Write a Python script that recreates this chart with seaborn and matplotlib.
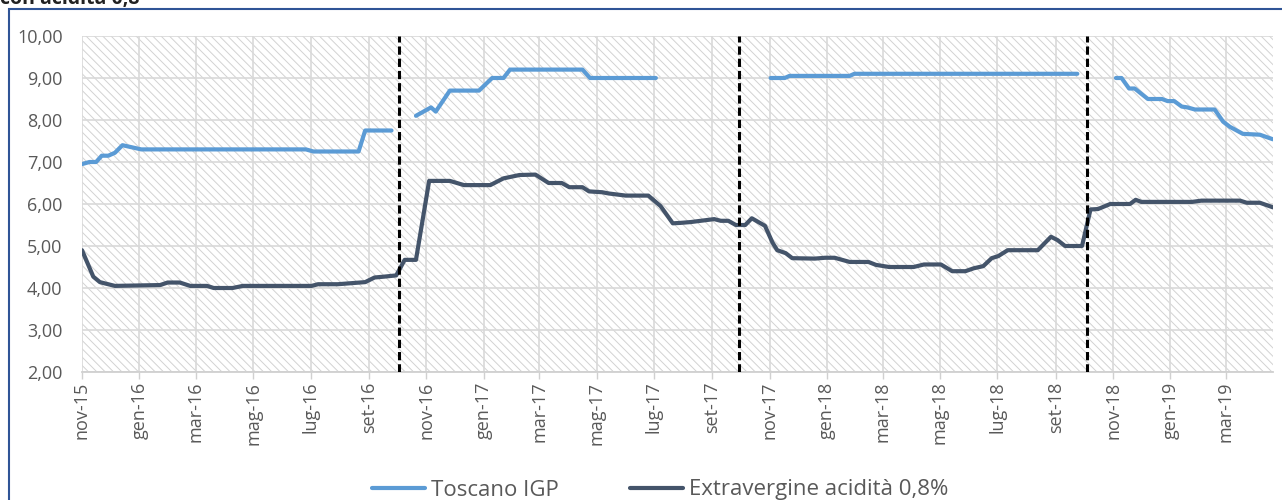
import pandas as pd
import numpy as np
import matplotlib.pyplot as plt
import matplotlib.dates as mdates
from matplotlib.patches import Rectangle
from matplotlib.lines import Line2D
from matplotlib.ticker import FuncFormatter
import seaborn as sns

# Toscano IGP prices (EUR/kg), one list per campaign - no quotes between campaigns
toscano_1516_dates = ['2015-11-01', '2015-11-09', '2015-11-16', '2015-11-22', '2015-11-29',
                      '2015-12-06', '2015-12-14', '2016-01-03', '2016-06-26', '2016-07-04',
                      '2016-08-21', '2016-08-28', '2016-09-25']
toscano_1516_vals = [6.95, 7.00, 7.00, 7.15, 7.15, 7.22, 7.40, 7.30, 7.30, 7.25, 7.25, 7.75, 7.75]

toscano_1617_dates = ['2016-10-21', '2016-11-06', '2016-11-11', '2016-11-26', '2016-12-27',
                      '2017-01-10', '2017-01-22', '2017-01-29', '2017-04-16', '2017-04-24',
                      '2017-07-03']
toscano_1617_vals = [8.10, 8.30, 8.20, 8.70, 8.70, 9.00, 9.00, 9.20, 9.20, 9.00, 9.00]

toscano_1718_dates = ['2017-11-02', '2017-11-17', '2017-11-22', '2018-01-25', '2018-01-30',
                      '2018-09-24']
toscano_1718_vals = [9.00, 9.00, 9.05, 9.05, 9.10, 9.10]

toscano_1819_dates = ['2018-11-04', '2018-11-10', '2018-11-18', '2018-11-24', '2018-12-08',
                      '2018-12-23', '2018-12-29', '2019-01-05', '2019-01-13', '2019-01-19',
                      '2019-01-27', '2019-02-17', '2019-02-26', '2019-03-05', '2019-03-19',
                      '2019-04-06', '2019-04-20']
toscano_1819_vals = [9.00, 9.00, 8.75, 8.75, 8.50, 8.50, 8.45, 8.45, 8.32, 8.30,
                     8.25, 8.25, 7.96, 7.84, 7.67, 7.65, 7.54]

# Extravergine acidita' 0,8% (continuous series)
evo_dates = ['2015-11-01', '2015-11-13', '2015-11-20', '2015-11-27', '2015-12-06',
             '2016-01-23', '2016-01-31', '2016-02-13', '2016-02-24', '2016-03-13',
             '2016-03-20', '2016-04-09', '2016-04-20', '2016-07-02', '2016-07-09',
             '2016-07-30', '2016-08-28', '2016-09-07', '2016-09-17', '2016-09-30',
             '2016-10-09', '2016-10-21', '2016-11-04', '2016-11-26', '2016-12-11',
             '2017-01-08', '2017-01-22', '2017-02-08', '2017-02-25', '2017-03-11',
             '2017-03-25', '2017-04-02', '2017-04-16', '2017-04-23', '2017-05-07',
             '2017-05-14', '2017-06-01', '2017-06-25', '2017-07-08', '2017-07-21',
             '2017-07-29', '2017-08-09', '2017-09-03', '2017-09-10', '2017-09-18',
             '2017-09-26', '2017-10-06', '2017-10-13', '2017-10-27', '2017-11-04',
             '2017-11-09', '2017-11-18', '2017-11-25', '2017-12-19', '2017-12-30',
             '2018-01-09', '2018-01-25', '2018-02-14', '2018-02-22', '2018-03-08',
             '2018-04-03', '2018-04-14', '2018-05-02', '2018-05-14', '2018-05-28',
             '2018-06-06', '2018-06-16', '2018-06-25', '2018-07-02', '2018-07-12',
             '2018-08-13', '2018-08-27', '2018-09-03', '2018-09-11', '2018-09-29',
             '2018-10-08', '2018-10-16', '2018-10-29', '2018-11-19', '2018-11-25',
             '2018-12-01', '2019-01-24', '2019-02-03', '2019-03-16', '2019-03-23',
             '2019-04-06', '2019-04-20']
evo_vals = [4.90, 4.27, 4.14, 4.10, 4.05, 4.07, 4.13, 4.13, 4.05, 4.05,
            4.00, 4.00, 4.05, 4.05, 4.09, 4.09, 4.14, 4.25, 4.27, 4.30,
            4.67, 4.67, 6.55, 6.55, 6.45, 6.45, 6.61, 6.69, 6.70, 6.50,
            6.50, 6.40, 6.40, 6.30, 6.28, 6.25, 6.20, 6.20, 5.95, 5.54,
            5.55, 5.57, 5.64, 5.60, 5.60, 5.50, 5.50, 5.66, 5.48, 5.08,
            4.90, 4.83, 4.71, 4.70, 4.72, 4.72, 4.62, 4.62, 4.55, 4.50,
            4.50, 4.56, 4.56, 4.40, 4.40, 4.47, 4.52, 4.71, 4.76, 4.90,
            4.90, 5.22, 5.14, 5.00, 5.00, 5.87, 5.88, 6.00, 6.00, 6.10,
            6.05, 6.05, 6.08, 6.08, 6.03, 6.03, 5.92]

# start of each new campaign (dashed separators)
campaign_starts = ['2016-10-03', '2017-09-29', '2018-10-04']

month_names = ['gen', 'feb', 'mar', 'apr', 'mag', 'giu',
               'lug', 'ago', 'set', 'ott', 'nov', 'dic']
series_labels = ['Toscano IGP', 'Extravergine acidità 0,8%']

BLUE = '#5B9BD5'
DARK = '#44546A'
GREY_TXT = '#595959'

# build tidy frames
parts = []
for name, d, v in [('15/16', toscano_1516_dates, toscano_1516_vals),
                   ('16/17', toscano_1617_dates, toscano_1617_vals),
                   ('17/18', toscano_1718_dates, toscano_1718_vals),
                   ('18/19', toscano_1819_dates, toscano_1819_vals)]:
    parts.append(pd.DataFrame({'data': pd.to_datetime(d), 'prezzo': v, 'campagna': name}))
tosc_df = pd.concat(parts, ignore_index=True)
evo_df = pd.DataFrame({'data': pd.to_datetime(evo_dates), 'prezzo': evo_vals})

sns.set_theme(style='white')
plt.rcParams['font.family'] = ['Open Sans', 'DejaVu Sans']
plt.rcParams['hatch.linewidth'] = 0.7

fig = plt.figure(figsize=(12.82, 5.0), dpi=100)
ax = fig.add_axes([82 / 1282, 1 - 372 / 500, (1273 - 82) / 1282, (372 - 36) / 500])

# hatched plot background
ax.add_patch(Rectangle((0, 0), 1, 1, transform=ax.transAxes, facecolor='white',
                       edgecolor='#d2d2d2', hatch='\\\\\\\\', lw=0, zorder=0))

sns.lineplot(data=tosc_df, x='data', y='prezzo', units='campagna', estimator=None,
             color=BLUE, lw=3, ax=ax, legend=False, zorder=3)
sns.lineplot(data=evo_df, x='data', y='prezzo', color=DARK, lw=3, ax=ax,
             legend=False, zorder=3)

for d in campaign_starts:
    ax.axvline(pd.Timestamp(d), color='black', lw=2.2, ls=(0, (2.7, 1.3)), zorder=4)

ax.set_xlim(pd.Timestamp('2015-11-01'), pd.Timestamp('2019-04-20'))
ax.set_ylim(2, 10)
ax.set_yticks(np.arange(2, 11, 1))
ax.yaxis.set_major_formatter(FuncFormatter(lambda v, p: f'{v:.2f}'.replace('.', ',')))
ax.xaxis.set_major_locator(mdates.MonthLocator(bymonth=[1, 3, 5, 7, 9, 11]))
ax.xaxis.set_major_formatter(FuncFormatter(
    lambda v, p: f"{month_names[mdates.num2date(v).month - 1]}-{mdates.num2date(v).year % 100:02d}"))

ax.set_axisbelow(True)
ax.grid(True, color='#d9d9d9', lw=1.2)
ax.set_xlabel('')
ax.set_ylabel('')
for s in ['left', 'right', 'top']:
    ax.spines[s].set_visible(False)
ax.spines['bottom'].set_color('#d0d0d0')
ax.spines['bottom'].set_linewidth(1.3)
ax.tick_params(axis='x', rotation=90, labelsize=13, colors=GREY_TXT, length=5,
               width=1, color='#d0d0d0', pad=2, bottom=True)
ax.tick_params(axis='y', labelsize=13, colors=GREY_TXT, length=0, pad=14)

handles = [Line2D([], [], color=BLUE, lw=3), Line2D([], [], color=DARK, lw=3)]
fig.legend(handles, series_labels, loc='center', bbox_to_anchor=(660 / 1282, 1 - 490 / 500),
           ncol=2, frameon=False, fontsize=16, handlelength=2.4, handletextpad=0.25,
           columnspacing=3.2, labelcolor=GREY_TXT)

# outer chart frame (bottom/right edges fall outside the image)
fig.add_artist(Rectangle((9 / 1282, -0.2), 1.2, 1.2 - 8.5 / 500, transform=fig.transFigure,
                         fill=False, edgecolor='#2F5496', lw=1.5))
# caption of the document, mostly cut off at the top edge
fig.text(0.0, 1 - 4 / 500, 'con acidità 0,8', fontsize=14, fontweight='bold',
         color='#222222', va='baseline', ha='left')

fig.savefig('out.png', dpi=100)
